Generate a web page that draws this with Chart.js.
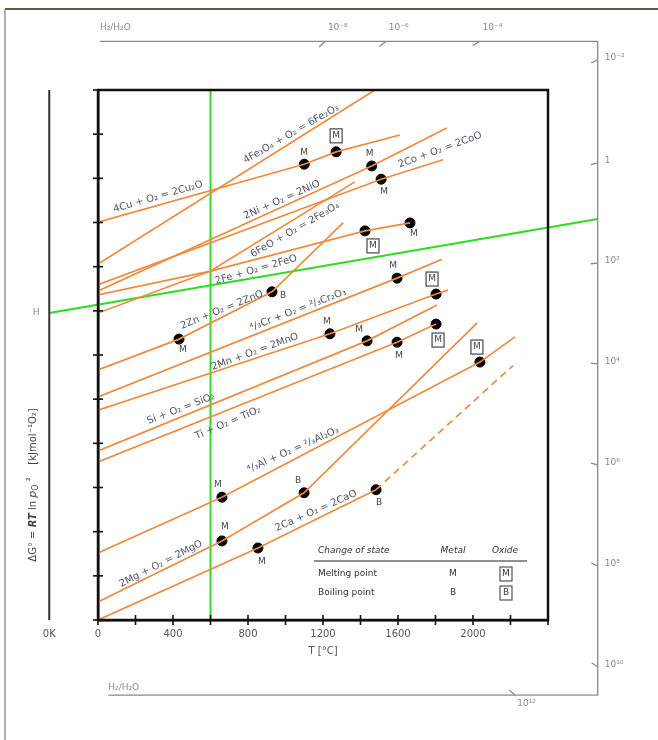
<!DOCTYPE html>
<html>
<head>
<meta charset="utf-8">
<script src="https://cdn.jsdelivr.net/npm/chart.js@4.4.1/dist/chart.umd.min.js"></script>
<style>
  html, body { margin: 0; padding: 0; background: #fff; }
</style>
</head>
<body>
<canvas id="ellingham" width="658" height="740"></canvas>
<script>
// Temperature (°C) and ΔG° (kJ per mol O2)
const cuT = [0, 1100, 1270, 1610];
const cuG = [-299, -168, -140, -102];
const fe2o3T = [0, 1477];
const fe2o3G = [-394, 0];
const niT = [0, 1460, 1860];
const niG = [-455, -172, -86];
const coT = [0, 1510, 1840];
const coG = [-441, -202, -158];
const fe3o4T = [0, 600, 1370];
const fe3o4G = [-505, -410, -208];
const feoT = [0, 600, 1424, 1664];
const feoG = [-464, -410, -319, -301];
const znT = [0, 432, 928, 1307];
const znG = [-634, -564, -457, -301];
const crT = [0, 1595, 1835];
const crG = [-695, -426, -383];
const mnT = [0, 1237, 1803, 1867];
const mnG = [-725, -552, -462, -453];
const siT = [0, 1435, 1808];
const siG = [-817, -568, -487];
const tiT = [0, 1595, 1803];
const tiG = [-842, -571, -530];
const alT = [0, 661, 2037, 2224];
const alG = [-1048, -922, -616, -559];
const mgT = [0, 661, 1099, 2021];
const mgG = [-1159, -1021, -912, -528];
const caT = [0, 853, 1483];
const caG = [-1200, -1037, -905];
const caDashT = [1483, 2213];
const caDashG = [-905, -624];

// green guide lines
const isoT = [600, 600];
const isoG = [-1200, 0];
const hLineT = [-260, 2665];
const hLineG = [-505, -292];
const zeroK = -260;

// nomograph scales (gray)
const topTickT = [1210, 1535, 2035];
const topTickLabels = ['10⁻⁸', '10⁻⁶', '10⁻⁴'];
const rightTickG = [68, -165, -392, -620, -849, -1078, -1306];
const rightTickLabels = ['10⁻²', '1', '10²', '10⁴', '10⁶', '10⁸', '10¹⁰'];
const bottomTickT = [2225];
const bottomTickLabels = ['10¹²'];
const nomoTopG = 110, nomoBottomG = -1370, nomoRightT = 2665;
const nomoTopStartT = 10, nomoBottomStartT = 55;

const lines = { cu: [cuT, cuG], fe2o3: [fe2o3T, fe2o3G], ni: [niT, niG], co: [coT, coG],
  fe3o4: [fe3o4T, fe3o4G], feo: [feoT, feoG], zn: [znT, znG], cr: [crT, crG], mn: [mnT, mnG],
  si: [siT, siG], ti: [tiT, tiG], al: [alT, alG], mg: [mgT, mgG], ca: [caT, caG] };

// phase changes: line, point index, kind
const changes = [
  ['cu', 1, 'M'], ['cu', 2, 'MO'], ['ni', 1, 'M'], ['co', 1, 'M'],
  ['feo', 2, 'MO'], ['feo', 3, 'M'], ['zn', 1, 'M'], ['zn', 2, 'B'],
  ['cr', 1, 'M'], ['mn', 1, 'M'], ['mn', 2, 'MO'], ['si', 1, 'M'],
  ['ti', 1, 'M'], ['ti', 2, 'MO'], ['al', 1, 'M'], ['al', 2, 'MO'],
  ['mg', 1, 'M'], ['mg', 2, 'B'], ['ca', 1, 'M'], ['ca', 2, 'B']
];
// label offsets (px) for each change above
const changeOffsets = [
  [0, -12], [0, -16], [-2, -12], [3, 12], [8, 15], [4, 11], [4, 11], [11, 4],
  [-4, -12], [-3, -12], [-4, -15], [-8, -11], [2, 13], [2, 16], [-4, -13], [-3, -15],
  [3, -14], [-6, -12], [4, 14], [3, 13]
];

// reaction names, placed at (T, ΔG) with angle in degrees
const reactionLabels = [
  ['4Cu + O₂ = 2Cu₂O', 320, -242, -16],
  ['4Fe₃O₄ + O₂ = 6Fe₂O₃', 1030, -100, -30],
  ['2Ni + O₂ = 2NiO', 981, -249, -24],
  ['2Co + O₂ = 2CoO', 1824, -136, -20],
  ['6FeO + O₂ = 2Fe₃O₄', 1051, -317, -30],
  ['2Fe + O₂ = 2FeO', 843, -407, -16],
  ['2Zn + O₂ = 2ZnO', 661, -498, -22],
  ['⁴/₃Cr + O₂ = ²/₃Cr₂O₃', 1067, -498, -21],
  ['2Mn + O₂ = 2MnO', 837, -593, -20],
  ['Si + O₂ = SiO₂', 443, -722, -21],
  ['Ti + O₂ = TiO₂', 693, -754, -23],
  ['⁴/₃Al + O₂ = ²/₃Al₂O₃', 1040, -815, -24],
  ['2Mg + O₂ = 2MgO', 336, -1073, -27],
  ['2Ca + O₂ = 2CaO', 1163, -953, -24]
];

const FONT = 'DejaVu Sans';
const ORANGE = '#f08a3e';
const GREEN = '#2edc22';
const TEXT = '#4f5565';

const zip = (t, g) => t.map((v, i) => ({ x: v, y: g[i] }));

const datasets = Object.keys(lines).map(k => ({
  data: zip(lines[k][0], lines[k][1]),
  showLine: true, borderColor: ORANGE, borderWidth: 1.7, pointRadius: 0
}));
datasets.push({ data: zip(caDashT, caDashG), showLine: true, borderColor: ORANGE,
  borderWidth: 1.7, borderDash: [7, 5], pointRadius: 0 });
datasets.push({ data: zip(isoT, isoG), showLine: true, borderColor: GREEN, borderWidth: 2, pointRadius: 0 });
datasets.push({ data: zip(hLineT, hLineG), showLine: true, borderColor: GREEN, borderWidth: 2,
  clip: false, pointRadius: [3, 0], pointBackgroundColor: '#fff', pointBorderColor: '#888', pointBorderWidth: 1 });
datasets.push({
  data: changes.map(c => ({ x: lines[c[0]][0][c[1]], y: lines[c[0]][1][c[1]] })),
  showLine: false, pointRadius: 5, pointBackgroundColor: '#000', pointBorderColor: '#000'
});

function tick(ctx, x, y, hx, hy, len) {
  const dx = hx - x, dy = hy - y, d = Math.hypot(dx, dy);
  ctx.beginPath(); ctx.moveTo(x, y); ctx.lineTo(x + dx / d * len, y + dy / d * len); ctx.stroke();
}

function seg(ctx, x1, y1, x2, y2) {
  ctx.beginPath(); ctx.moveTo(x1, y1); ctx.lineTo(x2, y2); ctx.stroke();
}

const decor = {
  id: 'decor',
  afterDraw(chart) {
    const ctx = chart.ctx, a = chart.chartArea;
    const xs = chart.scales.x, ys = chart.scales.y;
    const X = v => xs.getPixelForValue(v), Y = v => ys.getPixelForValue(v);
    ctx.save();

    // outer frame
    ctx.strokeStyle = '#5b5b4a'; ctx.lineWidth = 2;
    seg(ctx, 5, 9, 658, 9);
    ctx.strokeStyle = '#9a9a9a'; ctx.lineWidth = 1.5;
    seg(ctx, 5, 9, 5, 740);

    // plot frame and ticks
    ctx.strokeStyle = '#111'; ctx.lineWidth = 2.5;
    ctx.strokeRect(a.left, a.top, a.right - a.left, a.bottom - a.top);
    ctx.lineWidth = 1.6;
    xs.ticks.forEach(t => { const x = X(t.value); seg(ctx, x, a.bottom - 5, x, a.bottom + 5); });
    ys.ticks.forEach(t => { const y = Y(t.value); seg(ctx, a.left - 5, y, a.left + 5, y); });

    // 0 K line
    const kx = X(zeroK);
    ctx.strokeStyle = '#333'; ctx.lineWidth = 2;
    seg(ctx, kx, a.top, kx, a.bottom);
    ctx.fillStyle = '#555'; ctx.font = '10px "' + FONT + '"';
    ctx.textAlign = 'center'; ctx.textBaseline = 'middle';
    ctx.fillText('0K', kx, a.bottom + 14);

    // H point
    const hx = X(hLineT[0]), hy = Y(hLineG[0]);
    ctx.fillStyle = '#888'; ctx.font = '9px "' + FONT + '"';
    ctx.fillText('H', hx - 13, hy);

    // nomograph scales
    const nt = Y(nomoTopG), nb = Y(nomoBottomG), nr = X(nomoRightT);
    ctx.strokeStyle = '#8a8a8a'; ctx.lineWidth = 1.3;
    ctx.beginPath();
    ctx.moveTo(X(nomoTopStartT), nt); ctx.lineTo(nr, nt); ctx.lineTo(nr, nb); ctx.lineTo(X(nomoBottomStartT), nb);
    ctx.stroke();
    ctx.fillStyle = '#8a8a8a'; ctx.font = '9px "' + FONT + '"';
    ctx.textAlign = 'left';
    ctx.textBaseline = 'bottom';
    ctx.fillText('H₂/H₂O', X(nomoTopStartT), nt - 9);
    topTickT.forEach((t, i) => {
      const x = X(t); tick(ctx, x, nt, hx, hy, 8);
      ctx.fillText(topTickLabels[i], x + 3, nt - 9);
    });
    ctx.textBaseline = 'middle';
    rightTickG.forEach((g, i) => {
      const y = Y(g); tick(ctx, nr, y, hx, hy, 7);
      ctx.fillText(rightTickLabels[i], nr + 7, y - 2);
    });
    ctx.textBaseline = 'bottom';
    ctx.fillText('H₂/H₂O', X(nomoBottomStartT), nb - 3);
    ctx.textBaseline = 'top';
    bottomTickT.forEach((t, i) => {
      const x = X(t); tick(ctx, x, nb, hx, hy, 8);
      ctx.fillText(bottomTickLabels[i], x + 2, nb + 4);
    });

    // y axis title
    ctx.save();
    ctx.translate(33, 485);
    ctx.rotate(-Math.PI / 2);
    ctx.fillStyle = '#444'; ctx.textBaseline = 'middle'; ctx.textAlign = 'left';
    const pieces = [
      ['ΔG° = ', '10px "' + FONT + '"', 0], ['RT', 'italic bold 10px "' + FONT + '"', 0],
      [' ln ', '10px "' + FONT + '"', 0], ['p', 'italic 11px "' + FONT + '"', 0],
      ['O', '8px "' + FONT + '"', 3], [' ²', '10px "' + FONT + '"', -2],
      ['    [kJmol⁻¹O₂]', '10px "' + FONT + '"', 0]
    ];
    let w = 0;
    pieces.forEach(p => { ctx.font = p[1]; w += ctx.measureText(p[0]).width; });
    let cx = -w / 2;
    pieces.forEach(p => { ctx.font = p[1]; ctx.fillText(p[0], cx, p[2]); cx += ctx.measureText(p[0]).width; });
    ctx.restore();

    // reaction names
    ctx.fillStyle = TEXT; ctx.font = '10px "' + FONT + '"';
    ctx.textAlign = 'center'; ctx.textBaseline = 'middle';
    reactionLabels.forEach(r => {
      ctx.save();
      ctx.translate(X(r[1]), Y(r[2]));
      ctx.rotate(r[3] * Math.PI / 180);
      ctx.fillText(r[0], 0, 0);
      ctx.restore();
    });

    // M / B marks at phase changes
    ctx.font = '9px "' + FONT + '"'; ctx.fillStyle = '#444'; ctx.strokeStyle = '#555'; ctx.lineWidth = 1.3;
    changes.forEach((c, i) => {
      const x = X(lines[c[0]][0][c[1]]) + changeOffsets[i][0];
      const y = Y(lines[c[0]][1][c[1]]) + changeOffsets[i][1];
      const txt = c[2] === 'B' ? 'B' : 'M';
      ctx.fillText(txt, x, y);
      if (c[2] === 'MO') ctx.strokeRect(x - 6, y - 7, 12, 14);
    });

    // legend table
    const lx = a.left + 220, ly = a.bottom - 69;
    ctx.fillStyle = '#333';
    ctx.font = 'italic 9px "' + FONT + '"';
    ctx.textAlign = 'left'; ctx.fillText('Change of state', lx, ly);
    ctx.textAlign = 'center';
    ctx.fillText('Metal', lx + 135, ly); ctx.fillText('Oxide', lx + 187, ly);
    ctx.strokeStyle = '#222'; ctx.lineWidth = 1.2;
    seg(ctx, lx - 4, ly + 10, lx + 209, ly + 10);
    ctx.font = '9px "' + FONT + '"';
    ctx.textAlign = 'left';
    ctx.fillText('Melting point', lx, ly + 23); ctx.fillText('Boiling point', lx, ly + 42);
    ctx.textAlign = 'center';
    ctx.fillText('M', lx + 135, ly + 23); ctx.fillText('B', lx + 135, ly + 42);
    ctx.fillText('M', lx + 188, ly + 23); ctx.fillText('B', lx + 188, ly + 42);
    ctx.strokeStyle = '#555';
    ctx.strokeRect(lx + 182, ly + 16, 12, 14); ctx.strokeRect(lx + 182, ly + 35, 12, 14);

    ctx.restore();
  }
};

Chart.defaults.font.family = FONT;
new Chart(document.getElementById('ellingham'), {
  type: 'scatter',
  data: { datasets },
  options: {
    responsive: false,
    animation: false,
    layout: { padding: { left: 98, right: 110, top: 90, bottom: 80 } },
    plugins: { legend: { display: false }, tooltip: { enabled: false } },
    scales: {
      x: {
        type: 'linear', min: 0, max: 2400,
        afterFit: s => { s.height = 40; },
        ticks: { stepSize: 200, color: '#555', font: { size: 10 }, padding: 8, maxRotation: 0,
          callback: v => (v % 400 === 0 && v < 2400 ? String(v) : '') },
        grid: { display: false, drawTicks: false },
        border: { color: '#111', width: 2.5 },
        title: { display: true, text: 'T [°C]', color: '#555', font: { size: 10 }, padding: { top: 0, bottom: 3 } }
      },
      y: {
        type: 'linear', min: -1200, max: 0,
        afterFit: s => { s.width = 0; },
        ticks: { display: false, stepSize: 100 },
        grid: { display: false, drawTicks: false },
        border: { color: '#111', width: 2.5 }
      }
    }
  },
  plugins: [decor]
});
</script>
</body>
</html>
